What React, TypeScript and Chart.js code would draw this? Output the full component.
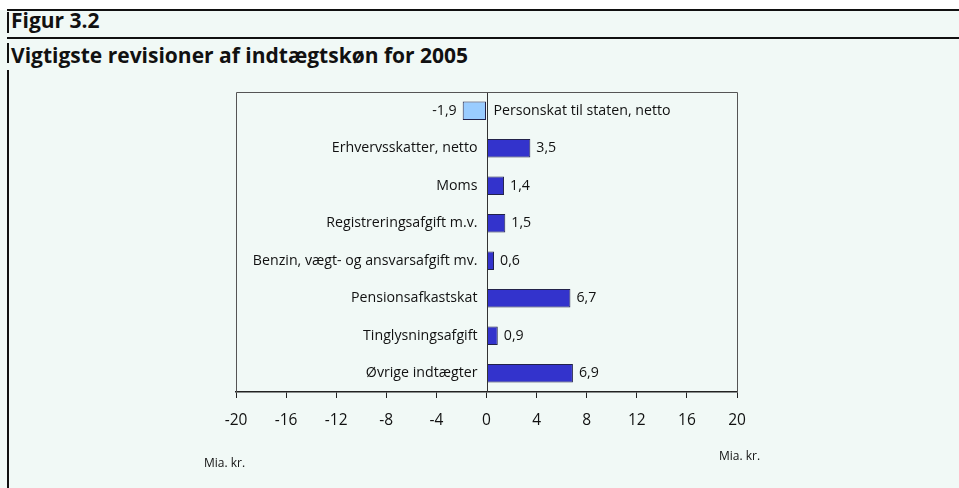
import React, { useEffect, useRef } from "react";
import { Chart, registerables } from "chart.js";

Chart.register(...registerables);

const categories: string[] = [
  "Personskat til staten, netto",
  "Erhvervsskatter, netto",
  "Moms",
  "Registreringsafgift m.v.",
  "Benzin, vægt- og ansvarsafgift mv.",
  "Pensionsafkastskat",
  "Tinglysningsafgift",
  "Øvrige indtægter",
];
const values: number[] = [-1.9, 3.5, 1.4, 1.5, 0.6, 6.7, 0.9, 6.9];
const xMin = -20;
const xMax = 20;
const xStep = 4;
const unitLabel = "Mia. kr.";
const figureLabel = "Figur 3.2";
const titleText = "Vigtigste revisioner af indtægtskøn for 2005";

const BG = "#f1f9f6";
const FONT = "'Open Sans', 'Noto Sans', sans-serif";

const labelPlugin = {
  id: "barLabels",
  afterDatasetsDraw(chart: any) {
    const ctx = chart.ctx;
    const meta = chart.getDatasetMeta(0);
    const x0 = chart.scales.x.getPixelForValue(0);
    ctx.save();
    ctx.fillStyle = "#111";
    ctx.font = `14.2px ${FONT}`;
    ctx.textBaseline = "middle";
    meta.data.forEach((bar: any, i: number) => {
      const v = values[i];
      const valText = v.toFixed(1).replace(".", ",");
      if (v >= 0) {
        ctx.textAlign = "right";
        ctx.fillText(categories[i], x0 - 9, bar.y);
        ctx.textAlign = "left";
        ctx.fillText(valText, bar.x + 6, bar.y);
      } else {
        ctx.textAlign = "left";
        ctx.fillText(categories[i], x0 + 7, bar.y);
        ctx.textAlign = "right";
        ctx.fillText(valText, bar.x - 6, bar.y);
      }
    });
    // zero line
    const a = chart.chartArea;
    ctx.strokeStyle = "#333";
    ctx.lineWidth = 1;
    ctx.beginPath();
    ctx.moveTo(Math.round(x0) + 0.5, a.top);
    ctx.lineTo(Math.round(x0) + 0.5, a.bottom);
    ctx.stroke();
    // frame
    ctx.strokeStyle = "#555";
    ctx.beginPath();
    ctx.moveTo(a.left + 0.5, a.bottom);
    ctx.lineTo(a.left + 0.5, a.top + 0.5);
    ctx.lineTo(a.right + 0.5, a.top + 0.5);
    ctx.lineTo(a.right + 0.5, a.bottom);
    ctx.stroke();
    ctx.restore();
  },
};

function BarChart() {
  const ref = useRef<HTMLCanvasElement | null>(null);
  useEffect(() => {
    if (!ref.current) return;
    const chart = new Chart(ref.current, {
      type: "bar",
      data: {
        labels: categories,
        datasets: [
          {
            data: values,
            backgroundColor: values.map((v) => (v < 0 ? "#99ccff" : "#3333cc")),
            borderColor: "#22224a",
            borderWidth: 1,
            borderSkipped: false,
            categoryPercentage: 1,
            barPercentage: 0.49,
          },
        ],
      },
      options: {
        indexAxis: "y",
        animation: false,
        responsive: false,
        maintainAspectRatio: false,
        layout: { padding: { left: 236, right: 222, top: 92, bottom: 46 } },
        plugins: { legend: { display: false }, tooltip: { enabled: false } },
        scales: {
          x: {
            min: xMin,
            max: xMax,
            afterFit: (s: any) => {
              s.height = 50;
            },
            ticks: {
              stepSize: xStep,
              color: "#111",
              padding: 13,
              font: { family: FONT, size: 15.5 },
              callback: (v: any) => String(v),
            },
            grid: {
              drawOnChartArea: false,
              drawTicks: true,
              tickLength: 6,
              color: "#222",
            },
            border: { display: true, color: "#222", width: 1.5 },
          },
          y: {
            display: false,
          },
        },
      },
      plugins: [labelPlugin],
    });
    return () => chart.destroy();
  }, []);
  return (
    <canvas
      ref={ref}
      width={959}
      height={488}
      style={{ position: "absolute", left: 0, top: 0, width: 959, height: 488 }}
    />
  );
}

export default function App() {
  useEffect(() => {
    document.body.style.margin = "0";
  }, []);
  const vline = (top: number, height: number) => (
    <div style={{ position: "absolute", left: 7, top, width: 2, height, background: "#111" }} />
  );
  return (
    <div style={{ position: "relative", width: 959, height: 488, background: "#fff", overflow: "hidden", fontFamily: FONT }}>
      <div style={{ position: "absolute", left: 0, top: 10, width: 959, height: 478, background: BG }} />
      <div style={{ position: "absolute", left: 7, top: 9, width: 952, height: 2, background: "#111" }} />
      <div style={{ position: "absolute", left: 7, top: 37, width: 952, height: 1.5, background: "#111" }} />
      {vline(12, 21)}
      {vline(43, 20)}
      {vline(70, 418)}
      <div style={{ position: "absolute", left: 11, top: 6, fontSize: 21, fontWeight: 700, color: "#111", lineHeight: "28px" }}>
        {figureLabel}
      </div>
      <div style={{ position: "absolute", left: 11, top: 41, fontSize: 21, fontWeight: 700, color: "#111", lineHeight: "28px" }}>
        {titleText}
      </div>
      <BarChart />
      <div style={{ position: "absolute", left: 204, top: 454, fontSize: 12, color: "#111" }}>{unitLabel}</div>
      <div style={{ position: "absolute", left: 719, top: 447, fontSize: 12, color: "#111" }}>{unitLabel}</div>
    </div>
  );
}
